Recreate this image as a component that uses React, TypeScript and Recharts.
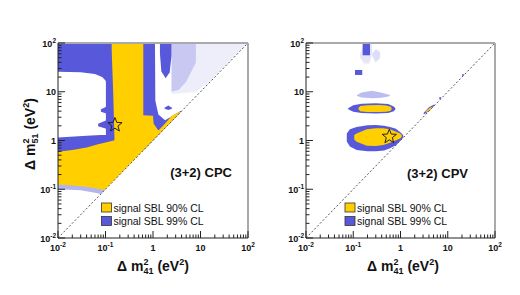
import React from "react";
import { ComposedChart, Area, XAxis, YAxis, ReferenceLine, Scatter } from "recharts";

const YELLOW = "#ffcf00";
const BLUE = "#5858da";
const FONT = "'Liberation Sans', Arial, sans-serif";

// log axis ticks, 10^-2 .. 10^2
const majorTicks = [0.01, 0.1, 1, 10, 100];
const tickBase = ["10", "10", "1", "10", "10"];
const tickExp = ["-2", "-1", "", "", "2"];
const minorSteps = [2, 3, 4, 5, 6, 7, 8, 9];
const allTicks = [
  ...majorTicks,
  ...majorTicks.slice(0, 4).flatMap((d) => minorSteps.map((m) => d * m)),
];

// ---- (3+2) CPC, left panel. y = [low, high] of each region at x ----
const cpcSpeckleLight = [
  { x: 2.45, y: [9, 100] },
  { x: 8, y: [10, 100] },
  { x: 15, y: [16, 100] },
  { x: 40, y: [42, 100] },
  { x: 100, y: [100, 100] },
];
const cpcSpeckleDense = [
  { x: 2.45, y: [10, 100] },
  { x: 3.5, y: [11, 100] },
  { x: 5, y: [16, 100] },
  { x: 8, y: [40, 100] },
];
const cpcBlueTop = [
  { x: 0.01, y: [25.7, 100] },
  { x: 0.03, y: [25, 100] },
  { x: 0.06, y: [23, 100] },
  { x: 0.085, y: [20, 100] },
  { x: 0.1, y: [17, 100] },
  { x: 0.11, y: [14, 100] },
];
const cpcBlueCol = [
  { x: 0.102, y: [1.1, 100] },
  { x: 0.16, y: [1.1, 100] },
];
const cpcBlueNotch = [
  { x: 0.08, y: [3.9, 4.4] },
  { x: 0.104, y: [3.6, 4.9] },
];
const cpcBlueStarNotch = [
  { x: 0.07, y: [1.95, 2.2] },
  { x: 0.104, y: [1.75, 2.6] },
];
const cpcBlueMid = [
  { x: 0.01, y: [0.5, 1.15] },
  { x: 0.04, y: [0.55, 1.25] },
  { x: 0.08, y: [0.7, 1.3] },
  { x: 0.16, y: [0.9, 1.3] },
];
const cpcBlueFringe = [
  { x: 0.01, y: [0.1, 0.13] },
  { x: 0.03, y: [0.095, 0.12] },
  { x: 0.06, y: [0.085, 0.11] },
  { x: 0.08, y: [0.08, 0.1] },
  { x: 0.1, y: [0.1, 0.105] },
];
const cpcBlueRight = [
  { x: 0.6, y: [0.6, 100] },
  { x: 1.1, y: [1.1, 100] },
  { x: 1.12, y: [1.12, 6.5] },
  { x: 1.3, y: [1.3, 3.4] },
  { x: 1.8, y: [1.8, 2.6] },
  { x: 2.6, y: [2.6, 3.2] },
  { x: 3.9, y: [3.9, 4.1] },
];
const cpcBlueStripe = [
  { x: 1.4, y: [60, 100] },
  { x: 1.5, y: [26, 100] },
  { x: 1.85, y: [19, 100] },
  { x: 2.25, y: [25, 100] },
  { x: 2.45, y: [55, 100] },
];
const cpcBlueBlob = [
  { x: 1.75, y: [4.5, 4.7] },
  { x: 2.1, y: [4.2, 5.2] },
  { x: 2.5, y: [4.5, 4.7] },
];
const cpcYellowLow = [
  { x: 0.01, y: [0.125, 0.59] },
  { x: 0.02, y: [0.12, 0.64] },
  { x: 0.04, y: [0.112, 0.72] },
  { x: 0.07, y: [0.102, 0.84] },
  { x: 0.095, y: [0.097, 0.9] },
  { x: 0.15, y: [0.15, 1.0] },
  { x: 0.62, y: [0.62, 3.3] },
  { x: 1.0, y: [1.0, 3.2] },
  { x: 1.03, y: [1.03, 2.2] },
  { x: 1.3, y: [1.3, 1.6] },
  { x: 1.7, y: [1.7, 2.1] },
  { x: 2.5, y: [2.5, 3.2] },
  { x: 3.7, y: [3.7, 3.9] },
];
const cpcYellowBand = [
  { x: 0.135, y: [70, 100] },
  { x: 0.145, y: [10, 100] },
  { x: 0.155, y: [1.0, 100] },
  { x: 0.625, y: [0.625, 100] },
];
const cpcBestFit = [{ x: 0.158, y: 2.08 }];

// ---- (3+2) CPV, right panel ----
const cpvBlueTop = [
  { x: 0.158, y: [56, 100] },
  { x: 0.226, y: [56, 100] },
];
const cpvSpeckleTop = [
  { x: 0.14, y: [50, 60] },
  { x: 0.17, y: [38, 100] },
  { x: 0.22, y: [38, 100] },
  { x: 0.25, y: [60, 90] },
];
const cpvSpeckleSide = [
  { x: 0.25, y: [55, 60] },
  { x: 0.3, y: [40, 75] },
  { x: 0.37, y: [50, 65] },
];
const cpvBlueSquare = [
  { x: 0.109, y: [22.1, 27.9] },
  { x: 0.155, y: [22.1, 27.9] },
];
const cpvBlueFaint = [
  { x: 0.12, y: [8.2, 8.6] },
  { x: 0.15, y: [7.6, 9.6] },
  { x: 0.25, y: [7.4, 10.5] },
  { x: 0.4, y: [7.5, 9.5] },
  { x: 0.55, y: [8.0, 8.8] },
  { x: 0.6, y: [8.3, 8.5] },
];
const cpvBlueMid = [
  { x: 0.078, y: [4.4, 4.6] },
  { x: 0.1, y: [3.9, 5.3] },
  { x: 0.15, y: [3.65, 5.7] },
  { x: 0.3, y: [3.6, 5.8] },
  { x: 0.55, y: [3.65, 5.6] },
  { x: 0.72, y: [4.0, 5.0] },
  { x: 0.78, y: [4.4, 4.6] },
];
const cpvYellowMid = [
  { x: 0.128, y: [4.45, 4.6] },
  { x: 0.14, y: [4.0, 5.1] },
  { x: 0.2, y: [3.85, 5.3] },
  { x: 0.35, y: [3.85, 5.35] },
  { x: 0.5, y: [3.9, 5.2] },
  { x: 0.62, y: [4.1, 4.9] },
  { x: 0.65, y: [4.45, 4.6] },
];
const cpvBlueLow = [
  { x: 0.073, y: [0.95, 1.4] },
  { x: 0.085, y: [0.75, 1.7] },
  { x: 0.118, y: [0.64, 1.9] },
  { x: 0.2, y: [0.6, 2.05] },
  { x: 0.3, y: [0.6, 2.08] },
  { x: 0.45, y: [0.62, 2.0] },
  { x: 0.6, y: [0.69, 1.9] },
  { x: 0.8, y: [0.8, 1.75] },
  { x: 0.98, y: [0.98, 1.5] },
  { x: 1.1, y: [1.1, 1.35] },
  { x: 1.15, y: [1.2, 1.25] },
];
const cpvYellowLow = [
  { x: 0.105, y: [1.05, 1.3] },
  { x: 0.118, y: [0.94, 1.4] },
  { x: 0.193, y: [0.78, 1.7] },
  { x: 0.3, y: [0.77, 1.78] },
  { x: 0.433, y: [0.81, 1.78] },
  { x: 0.6, y: [0.9, 1.7] },
  { x: 0.83, y: [1.02, 1.5] },
  { x: 0.98, y: [1.1, 1.4] },
  { x: 1.06, y: [1.2, 1.3] },
];
const cpvBlueDiag = [
  { x: 3.1, y: [3.4, 3.7] },
  { x: 4.0, y: [4.0, 4.8] },
  { x: 5.0, y: [5.0, 5.4] },
  { x: 5.3, y: [5.3, 5.4] },
];
const cpvYellowDiag = [
  { x: 3.4, y: [3.75, 4.0] },
  { x: 4.2, y: [4.2, 4.7] },
  { x: 4.9, y: [4.9, 5.0] },
];
const cpvSpecks = [
  { x: 6.9, y: 7.4 },
  { x: 21, y: 22 },
];
const cpvBestFit = [{ x: 0.58, y: 1.2 }];

const legendItems = [
  { label: "signal SBL 90% CL", color: YELLOW },
  { label: "signal SBL 99% CL", color: BLUE },
];

type Region = { data: any[]; color: string; opacity?: number };

function LogTick(props: any) {
  const { x, y, payload, orient } = props;
  const i = majorTicks.indexOf(payload.value);
  const len = i >= 0 ? 7 : 3.5;
  const lbl = { fontFamily: FONT, fontSize: 9, fontWeight: "bold" as const, fill: "#111" };
  if (orient === "bottom") {
    return (
      <g>
        <line x1={x} x2={x} y1={y} y2={y - len} stroke="#222" />
        {i >= 0 && (
          <text x={x} y={y + 13} textAnchor="middle" {...lbl}>
            {tickBase[i]}
            {tickExp[i] && <tspan dy={-4} fontSize={6.5}>{tickExp[i]}</tspan>}
          </text>
        )}
      </g>
    );
  }
  return (
    <g>
      <line x1={x} x2={x + len} y1={y} y2={y} stroke="#222" />
      {i >= 0 && (
        <text x={x - 2} y={y + 3.5} textAnchor="end" {...lbl}>
          {tickBase[i]}
          {tickExp[i] && <tspan dy={-4} fontSize={6.5}>{tickExp[i]}</tspan>}
        </text>
      )}
    </g>
  );
}

function Star(props: any) {
  const { cx, cy } = props;
  const pts: string[] = [];
  for (let k = 0; k < 10; k++) {
    const r = k % 2 === 0 ? 7.5 : 3.2;
    const a = -Math.PI / 2 + (k * Math.PI) / 5;
    pts.push(`${cx + r * Math.cos(a)},${cy + r * Math.sin(a)}`);
  }
  return <polygon points={pts.join(" ")} fill="none" stroke="#222" strokeWidth={1} />;
}

function Speck(props: any) {
  return <circle cx={props.cx} cy={props.cy} r={1} fill={BLUE} />;
}

function Panel({
  regions,
  best,
  specks,
  marginLeft,
  marginRight,
}: {
  regions: Region[];
  best: any[];
  specks?: any[];
  marginLeft: number;
  marginRight: number;
}) {
  return (
    <ComposedChart
      width={260}
      height={295}
      margin={{ top: 43, right: marginRight, bottom: 37, left: marginLeft }}
    >
      <XAxis
        dataKey="x"
        type="number"
        scale="log"
        domain={[0.01, 100]}
        allowDataOverflow
        ticks={allTicks}
        interval={0}
        tickSize={0}
        tickMargin={0}
        tickLine={false}
        height={20}
        axisLine={{ stroke: "#222" }}
        tick={<LogTick orient="bottom" />}
      />
      <YAxis
        dataKey="y"
        type="number"
        scale="log"
        domain={[0.01, 100]}
        allowDataOverflow
        ticks={allTicks}
        interval={0}
        tickSize={0}
        tickMargin={0}
        tickLine={false}
        width={30}
        axisLine={{ stroke: "#222" }}
        tick={<LogTick orient="left" />}
      />
      {regions.map((r, idx) => (
        <Area
          key={idx}
          data={r.data}
          dataKey="y"
          type="linear"
          stroke="none"
          fill={r.color}
          fillOpacity={r.opacity ?? 1}
          dot={false}
          activeDot={false}
          isAnimationActive={false}
        />
      ))}
      <ReferenceLine
        segment={[
          { x: 0.01, y: 0.01 },
          { x: 100, y: 100 },
        ]}
        stroke="#555"
        strokeDasharray="2 2"
      />
      <ReferenceLine y={100} stroke="#aaa" strokeWidth={2} />
      <ReferenceLine x={100} stroke="#aaa" strokeWidth={2} />
      {specks && <Scatter data={specks} shape={<Speck />} isAnimationActive={false} />}
      <Scatter data={best} shape={<Star />} isAnimationActive={false} />
    </ComposedChart>
  );
}

function Legend2({ left, top }: { left: number; top: number }) {
  return (
    <g>
      {legendItems.map((it, i) => (
        <g key={it.label}>
          <rect x={left} y={top + i * 13.5} width={10} height={9} fill={it.color} stroke="#333" strokeWidth={0.8} />
          <text x={left + 12} y={top + i * 13.5 + 8.5} fontFamily={FONT} fontSize={10.5} fill="#111">
            {it.label}
          </text>
        </g>
      ))}
    </g>
  );
}

function XTitle({ cx }: { cx: number }) {
  return (
    <text x={cx} y={271} textAnchor="middle" fontFamily={FONT} fontWeight="bold" fontSize={14} fill="#111">
      Δ m<tspan dy={-6} fontSize={9}>2</tspan>
      <tspan dx={-5} dy={9} fontSize={9}>41</tspan>
      <tspan dy={-3}> (eV</tspan>
      <tspan dy={-6} fontSize={9}>2</tspan>
      <tspan dy={6}>)</tspan>
    </text>
  );
}

export default function App() {
  const cpcRegions: Region[] = [
    { data: cpcSpeckleLight, color: BLUE, opacity: 0.1 },
    { data: cpcSpeckleDense, color: BLUE, opacity: 0.25 },
    { data: cpcBlueTop, color: BLUE },
    { data: cpcBlueCol, color: BLUE },
    { data: cpcBlueNotch, color: BLUE },
    { data: cpcBlueStarNotch, color: BLUE },
    { data: cpcBlueMid, color: BLUE },
    { data: cpcBlueFringe, color: BLUE, opacity: 0.45 },
    { data: cpcBlueRight, color: BLUE },
    { data: cpcBlueStripe, color: BLUE },
    { data: cpcBlueBlob, color: BLUE },
    { data: cpcYellowLow, color: YELLOW },
    { data: cpcYellowBand, color: YELLOW },
  ];
  const cpvRegions: Region[] = [
    { data: cpvSpeckleTop, color: BLUE, opacity: 0.15 },
    { data: cpvSpeckleSide, color: BLUE, opacity: 0.2 },
    { data: cpvBlueTop, color: BLUE },
    { data: cpvBlueSquare, color: BLUE },
    { data: cpvBlueFaint, color: BLUE, opacity: 0.4 },
    { data: cpvBlueMid, color: BLUE },
    { data: cpvYellowMid, color: YELLOW },
    { data: cpvBlueLow, color: BLUE },
    { data: cpvYellowLow, color: YELLOW },
    { data: cpvBlueDiag, color: BLUE },
    { data: cpvYellowDiag, color: YELLOW },
  ];

  return (
    <div style={{ position: "absolute", left: 0, top: 0, width: 520, height: 295, background: "#fff" }}>
      <div style={{ position: "absolute", left: 0, top: 0 }}>
        <Panel regions={cpcRegions} best={cpcBestFit} marginLeft={28} marginRight={12} />
      </div>
      <div style={{ position: "absolute", left: 260, top: 0 }}>
        <Panel regions={cpvRegions} best={cpvBestFit} specks={cpvSpecks} marginLeft={16} marginRight={25} />
      </div>
      <svg width={520} height={295} style={{ position: "absolute", left: 0, top: 0, pointerEvents: "none" }}>
        <text
          x={35}
          y={134}
          transform="rotate(-90 35 134)"
          textAnchor="middle"
          fontFamily={FONT}
          fontWeight="bold"
          fontSize={14}
          fill="#111"
        >
          Δ m<tspan dy={-6} fontSize={9}>2</tspan>
          <tspan dx={-5} dy={9} fontSize={9}>51</tspan>
          <tspan dy={-3}> (eV</tspan>
          <tspan dy={-6} fontSize={9}>2</tspan>
          <tspan dy={6}>)</tspan>
        </text>
        <XTitle cx={153} />
        <XTitle cx={403} />
        <text x={232} y={177} textAnchor="end" fontFamily={FONT} fontWeight="bold" fontSize={13} fill="#111">
          (3+2) CPC
        </text>
        <text x={468} y={178} textAnchor="end" fontFamily={FONT} fontWeight="bold" fontSize={13} fill="#111">
          (3+2) CPV
        </text>
        <Legend2 left={101.5} top={203} />
        <Legend2 left={345} top={203} />
      </svg>
    </div>
  );
}
